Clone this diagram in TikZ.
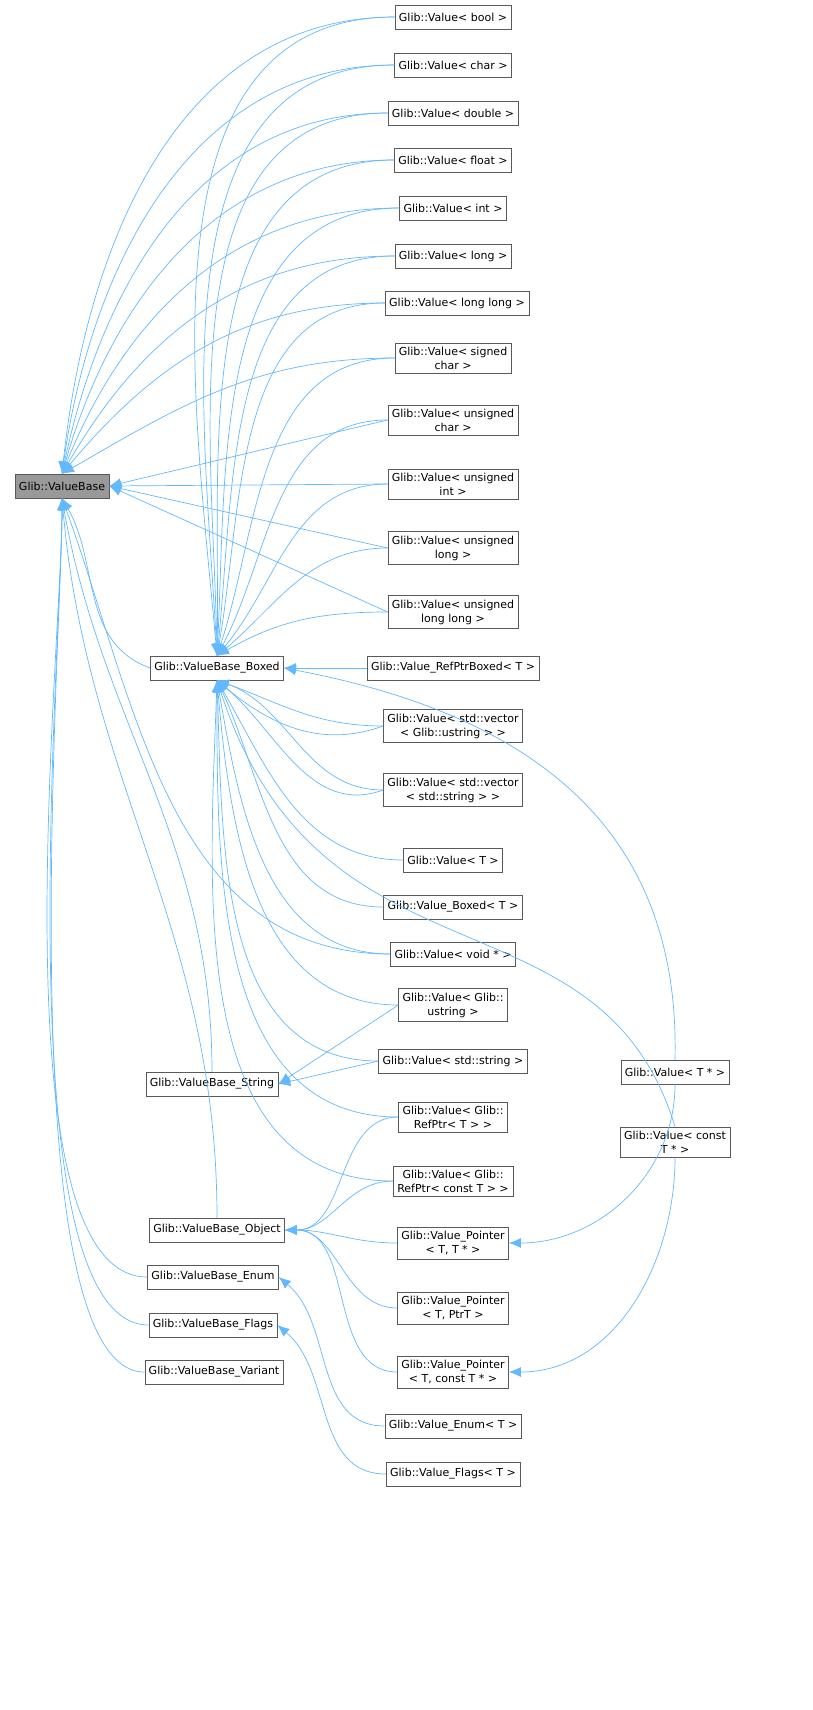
\documentclass[tikz,border=0pt]{standalone}
\usepackage{fontspec}
\setmainfont{DejaVu Sans}
\usetikzlibrary{arrows.meta,positioning}
\definecolor{edgeblue}{HTML}{63B8FF}
\tikzset{
  cls/.style={draw=black!65, fill=white, inner sep=4pt, minimum height=24pt, align=center, font=\fontsize{11}{14}\selectfont},
  inh/.style={{Latex[length=12pt,width=10pt]}-, draw=edgeblue, fill=none, line width=0.7pt},
}
\begin{document}
\begin{tikzpicture}[x=1pt, y=-1pt]
  \useasboundingbox (0,0) rectangle (812,1710);
  % base classes
  \node[cls, fill=black!40] (vb) at (62,486) {Glib::ValueBase};
  \node[cls] (boxed) at (217,668) {Glib::ValueBase\_Boxed};
  \node[cls] (str) at (212,1084) {Glib::ValueBase\_String};
  \node[cls] (obj) at (217,1230) {Glib::ValueBase\_Object};
  \node[cls] (enm) at (213,1277) {Glib::ValueBase\_Enum};
  \node[cls] (flg) at (213,1325) {Glib::ValueBase\_Flags};
  \node[cls] (var) at (214,1372) {Glib::ValueBase\_Variant};
  % fundamental types
  \node[cls] (vbool) at (453,17) {Glib::Value< bool >};
  \node[cls] (vchar) at (453,65) {Glib::Value< char >};
  \node[cls] (vdouble) at (453,113) {Glib::Value< double >};
  \node[cls] (vfloat) at (453,160) {Glib::Value< float >};
  \node[cls] (vint) at (453,208) {Glib::Value< int >};
  \node[cls] (vlong) at (453,256) {Glib::Value< long >};
  \node[cls] (vll) at (457,303) {Glib::Value< long long >};
  \node[cls] (vschar) at (453,358) {Glib::Value< signed\\char >};
  \node[cls] (vuchar) at (453,420) {Glib::Value< unsigned\\char >};
  \node[cls] (vuint) at (453,484) {Glib::Value< unsigned\\int >};
  \node[cls] (vulong) at (453,548) {Glib::Value< unsigned\\long >};
  \node[cls] (vull) at (453,612) {Glib::Value< unsigned\\long long >};
  % boxed types
  \node[cls] (refbox) at (453,668) {Glib::Value\_RefPtrBoxed< T >};
  \node[cls] (vecu) at (453,726) {Glib::Value< std::vector\\< Glib::ustring > >};
  \node[cls] (vecs) at (453,790) {Glib::Value< std::vector\\< std::string > >};
  \node[cls] (vt) at (453,860) {Glib::Value< T >};
  \node[cls] (vboxt) at (453,907) {Glib::Value\_Boxed< T >};
  \node[cls] (vvoid) at (453,954) {Glib::Value< void * >};
  \node[cls] (vustr) at (453,1005) {Glib::Value< Glib::\\ustring >};
  \node[cls] (vstdstr) at (453,1061) {Glib::Value< std::string >};
  \node[cls] (vref) at (453,1117) {Glib::Value< Glib::\\RefPtr< T > >};
  \node[cls] (vrefc) at (453,1181) {Glib::Value< Glib::\\RefPtr< const T > >};
  \node[cls] (vp1) at (453,1243) {Glib::Value\_Pointer\\< T, T * >};
  \node[cls] (vp2) at (453,1308) {Glib::Value\_Pointer\\< T, PtrT >};
  \node[cls] (vp3) at (453,1372) {Glib::Value\_Pointer\\< T, const T * >};
  \node[cls] (venum) at (453,1426) {Glib::Value\_Enum< T >};
  \node[cls] (vflags) at (453,1474) {Glib::Value\_Flags< T >};
  \node[cls] (vtp) at (675,1072) {Glib::Value< T * >};
  \node[cls] (vctp) at (675,1142) {Glib::Value< const\\T * >};
  % ValueBase edges
  \foreach \n/\o in {vbool/84,vchar/82,vdouble/78,vfloat/74,vint/68,vlong/60,vll/50,vschar/30}
    \draw[inh] (vb.north) to[out=\o,in=180] (\n.west);
  \foreach \n in {vuchar,vuint,vulong,vull}
    \draw[inh] (vb.east) -- (\n.west);
  \draw[inh] (vb.south) to[out=-60,in=160] (boxed.west);
  \draw[inh] (vb.south) to[out=-70,in=180] (vvoid.west);
  \draw[inh] (vb.south) to[out=-80,in=90] (str.north);
  \draw[inh] (vb.south) to[out=-85,in=90] (obj.north);
  \foreach \n/\l in {enm/0.5,flg/0.45,var/0.4}
    \draw[inh] (vb.south) to[out=-90,in=180,looseness=\l] (\n.west);
  % ValueBase_Boxed edges
  \foreach \n/\o in {vbool/95,vchar/93,vdouble/91,vfloat/89,vint/87,vlong/84,vll/80,vschar/72,vuchar/62,vuint/50,vulong/40,vull/30}
    \draw[inh] (boxed.north) to[out=\o,in=180] (\n.west);
  \draw[inh] (boxed) -- (refbox);
  \draw[inh] (boxed.east) .. controls (560,720) and (680,850) .. (vtp.north);
  \foreach \n in {vecu,vecs}{
    \draw[inh] (boxed.south) to[out=-20,in=180] (\n.west);
    \draw[inh] (boxed.south) to[out=-40,in=200] (\n.west);
  }
  \foreach \n/\o in {vt/-60,vboxt/-65,vvoid/-80,vustr/-85,vstdstr/-88,vref/-90,vrefc/-92}
    \draw[inh] (boxed.south) to[out=\o,in=180] (\n.west);
  \draw[inh] (boxed.south) .. controls (320,1000) and (600,880) .. (vctp.north);
  % other edges
  \draw[inh] (str.east) -- (vustr.west);
  \draw[inh] (str.east) -- (vstdstr.west);
  \foreach \n in {vref,vrefc,vp1,vp2,vp3}
    \draw[inh] (obj.east) to[out=0,in=180] (\n.west);
  \draw[inh] (enm.east) to[out=-40,in=180] (venum.west);
  \draw[inh] (flg.east) to[out=-40,in=180] (vflags.west);
  \draw[inh] (vp1.east) to[out=0,in=-90] (vtp.south);
  \draw[inh] (vp3.east) to[out=0,in=-90] (vctp.south);
\end{tikzpicture}
\end{document}
